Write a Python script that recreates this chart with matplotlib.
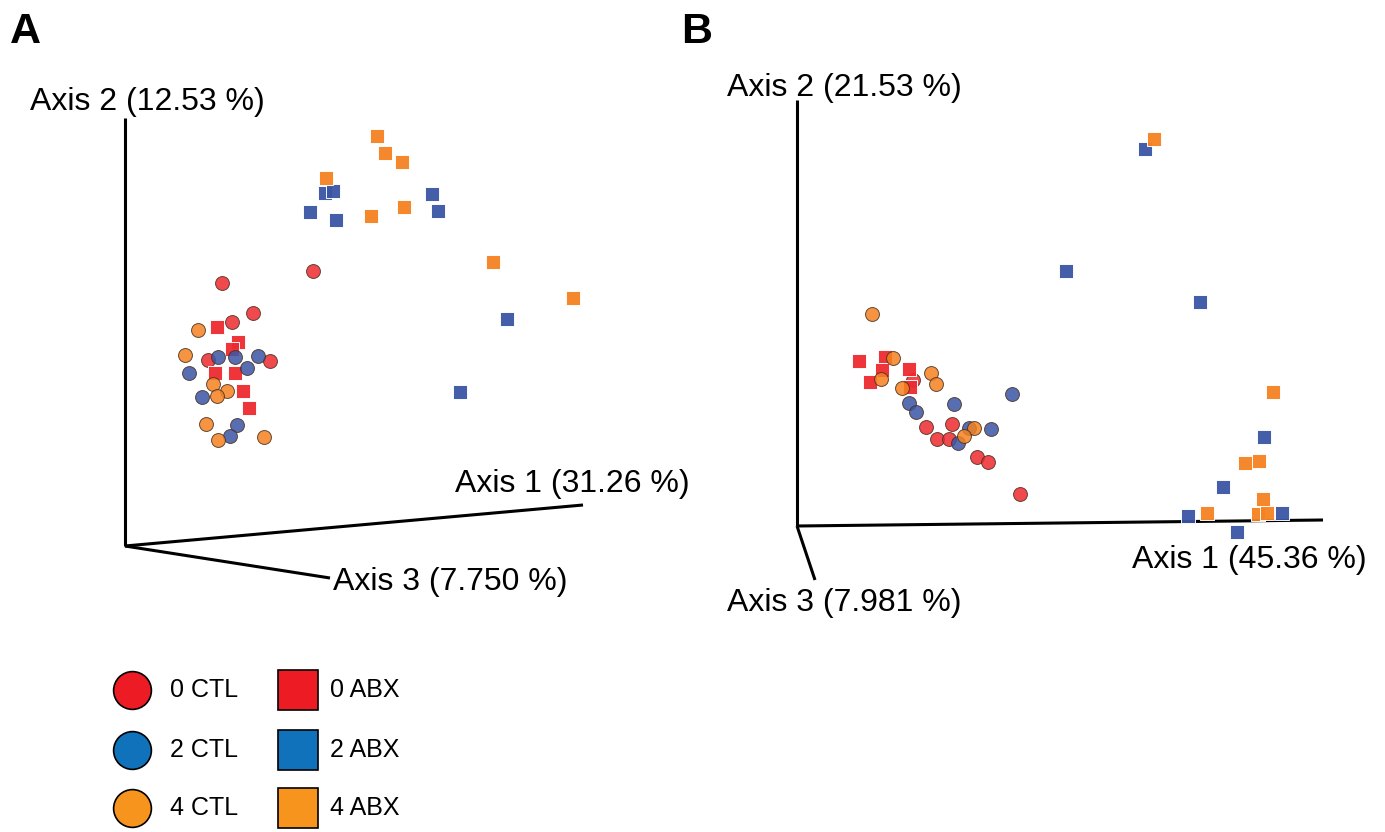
import matplotlib.pyplot as plt
from matplotlib.patches import Rectangle

plt.rcParams['font.family'] = ['Liberation Sans', 'DejaVu Sans']

groups = ["0 CTL", "2 CTL", "4 CTL", "0 ABX", "2 ABX", "4 ABX"]
point_colors = {"0": "#ee2a2f", "2": "#3b55a5", "4": "#f58220"}
legend_colors = {"0": "#ed1c24", "2": "#1072ba", "4": "#f7941d"}

# panel A: projected PCoA coordinates (screen units)
a_0ctl_x = [222, 253, 232, 208, 270, 313]
a_0ctl_y = [283, 313, 322, 360, 361, 271]
a_2ctl_x = [218, 235, 258, 247, 189, 202, 237, 230]
a_2ctl_y = [357, 357, 356, 368, 373, 397, 425, 436]
a_4ctl_x = [198, 185, 213, 227, 217, 206, 218, 264]
a_4ctl_y = [330, 355, 384, 391, 396, 424, 440, 437]
a_0abx_x = [217, 238, 232, 215, 235, 243, 249]
a_0abx_y = [327, 342, 349, 373, 373, 391, 408]
a_2abx_x = [325, 333, 310, 336, 432, 438, 507, 460]
a_2abx_y = [193, 191, 212, 220, 194, 211, 319, 392]
a_4abx_x = [377, 385, 402, 326, 371, 404, 493, 573]
a_4abx_y = [136, 153, 162, 178, 216, 207, 262, 298]

# panel B
b_0ctl_x = [913, 926, 952, 937, 949, 977, 988, 1020]
b_0ctl_y = [380, 427, 424, 439, 439, 457, 462, 494]
b_2ctl_x = [909, 916, 954, 1012, 969, 991, 958]
b_2ctl_y = [403, 412, 404, 394, 428, 429, 443]
b_4ctl_x = [872, 893, 881, 931, 936, 902, 974, 964]
b_4ctl_y = [314, 358, 379, 373, 384, 388, 428, 436]
b_0abx_x = [859, 885, 882, 870, 909, 910]
b_0abx_y = [361, 357, 370, 382, 369, 387]
b_2abx_x = [1145, 1066, 1200, 1264, 1223, 1282, 1188, 1237]
b_2abx_y = [149, 271, 302, 437, 487, 513, 516, 532]
b_4abx_x = [1154, 1273, 1245, 1259, 1263, 1207, 1258, 1267]
b_4abx_y = [139, 392, 463, 461, 499, 513, 514, 513]

# axis lines: origin, axis1 end, axis2 end, axis3 end
a_axes = [(125, 546), (583, 505), (125, 118), (330, 578)]
b_axes = [(797, 526), (1323, 520), (797, 100), (815, 580)]
a_labels = ["Axis 1 (31.26 %)", "Axis 2 (12.53 %)", "Axis 3 (7.750 %)"]
b_labels = ["Axis 1 (45.36 %)", "Axis 2 (21.53 %)", "Axis 3 (7.981 %)"]

fig = plt.figure(figsize=(13.85, 8.32), dpi=100)
ax = fig.add_axes([0, 0, 1, 1])
ax.set_xlim(0, 1385)
ax.set_ylim(832, 0)
ax.axis("off")


def draw_axes(pts):
    o = pts[0]
    for end in pts[1:]:
        ax.plot([o[0], end[0]], [o[1], end[1]], color="black", lw=2.2,
                solid_capstyle="butt", zorder=1)


def draw_points(data):
    for key, cx, cy, sx, sy in data:
        c = point_colors[key]
        ax.scatter(cx, cy, s=100, marker="o", color=c, edgecolors="#4a3020",
                   linewidths=0.7, alpha=0.85, zorder=3)
        ax.scatter(sx, sy, s=115, marker="s", color=c, edgecolors="#ffffff",
                   linewidths=0.7, alpha=0.95, zorder=3)


draw_axes(a_axes)
draw_axes(b_axes)
draw_points([("0", a_0ctl_x, a_0ctl_y, a_0abx_x, a_0abx_y),
             ("2", a_2ctl_x, a_2ctl_y, a_2abx_x, a_2abx_y),
             ("4", a_4ctl_x, a_4ctl_y, a_4abx_x, a_4abx_y)])
draw_points([("0", b_0ctl_x, b_0ctl_y, b_0abx_x, b_0abx_y),
             ("2", b_2ctl_x, b_2ctl_y, b_2abx_x, b_2abx_y),
             ("4", b_4ctl_x, b_4ctl_y, b_4abx_x, b_4abx_y)])

fs = 23
ax.text(455, 484, a_labels[0], fontsize=fs, va="center", ha="left")
ax.text(30, 102, a_labels[1], fontsize=fs, va="center", ha="left")
ax.text(333, 582, a_labels[2], fontsize=fs, va="center", ha="left")
ax.text(1132, 560, b_labels[0], fontsize=fs, va="center", ha="left")
ax.text(727, 88, b_labels[1], fontsize=fs, va="center", ha="left")
ax.text(727, 603, b_labels[2], fontsize=fs, va="center", ha="left")

ax.text(10, 32, "A", fontsize=31, fontweight="bold", va="center", ha="left")
ax.text(681, 32, "B", fontsize=31, fontweight="bold", va="center", ha="left")

# legend
rows_y = [690, 750, 808]
for i, key in enumerate(["0", "2", "4"]):
    y = rows_y[i]
    ax.scatter([132], [y], s=740, marker="o", color=legend_colors[key],
               edgecolors="black", linewidths=1.2, zorder=3)
    ax.text(170, y, groups[i], fontsize=18, va="center", ha="left")
    ax.add_patch(Rectangle((278, y - 20), 40, 40, facecolor=legend_colors[key],
                           edgecolor="black", lw=1.2, zorder=3))
    ax.text(330, y, groups[i + 3], fontsize=18, va="center", ha="left")

fig.savefig("out.png", dpi=100)
